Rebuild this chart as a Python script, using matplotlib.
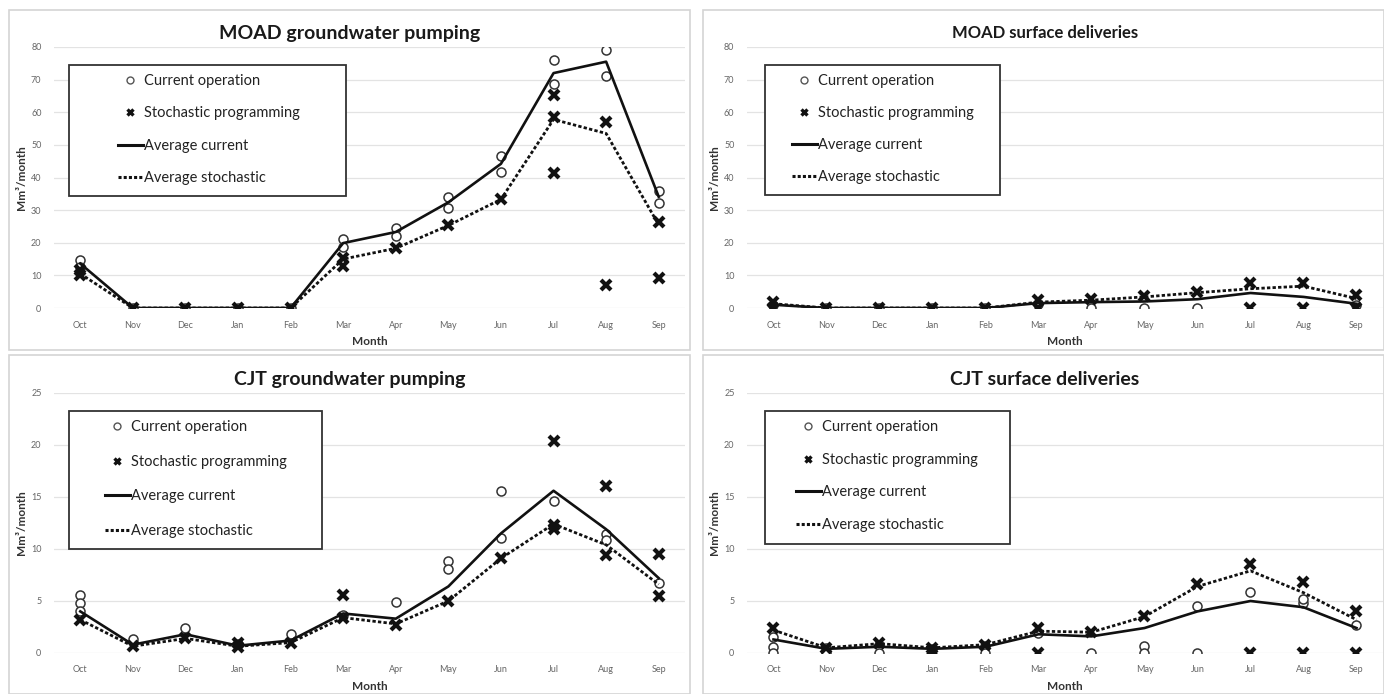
import matplotlib
matplotlib.use('Agg')
import matplotlib.pyplot as plt
from matplotlib.lines import Line2D
from matplotlib.patches import Rectangle

plt.rcParams['font.family'] = ['Lato', 'DejaVu Sans']

months = ['Oct', 'Nov', 'Dec', 'Jan', 'Feb', 'Mar', 'Apr', 'May', 'Jun', 'Jul', 'Aug', 'Sep']

# MOAD groundwater pumping
moad_gw_cur_pts = [[14.8, 12.5], [0], [0], [0], [0], [21.1, 18.7], [24.5, 22.1],
                   [34.1, 30.6], [46.6, 41.8], [76.1, 68.8], [79.0, 71.0], [35.9, 32.3]]
moad_gw_cur_avg = [13.6, 0, 0, 0, 0, 19.9, 23.3, 32.4, 44.2, 72.0, 75.5, 34.1]
moad_gw_sto_pts = [[10.2, 11.5], [0], [0], [0], [0], [15.3, 12.9], [18.3],
                   [25.3], [33.3], [65.2, 58.6, 41.3], [57.1, 7.1], [26.5, 9.2]]
moad_gw_sto_avg = [10.5, 0, 0, 0, 0, 15.0, 18.3, 25.3, 33.3, 57.8, 53.5, 25.5]

# MOAD surface deliveries
moad_sw_cur_pts = [[1.0], [0], [0], [0], [0], [1.2], [0], [0], [0], [], [], [1.0]]
moad_sw_cur_avg = [1.0, 0, 0, 0, 0, 1.5, 1.8, 2.0, 2.7, 4.6, 3.4, 1.3]
moad_sw_sto_pts = [[1.8, 0], [0], [0], [0], [0], [2.5, 0], [2.8], [3.6],
                   [5.0], [7.7, 0], [7.8, 0], [3.9, 0]]
moad_sw_sto_avg = [1.3, 0, 0, 0, 0, 1.8, 2.4, 3.4, 4.7, 5.9, 6.7, 2.9]

# CJT groundwater pumping
cjt_gw_cur_pts = [[5.6, 4.8, 4.0], [1.3], [2.4], [0.9], [1.8], [3.7], [4.9],
                  [8.8, 8.1], [15.6, 11.1], [14.6], [11.4, 10.9], [6.7]]
cjt_gw_cur_avg = [4.0, 0.8, 1.8, 0.7, 1.2, 3.8, 3.3, 6.4, 11.5, 15.6, 11.9, 7.2]
cjt_gw_sto_pts = [[3.2], [0.7], [1.4], [1.0, 0.6], [1.0], [5.6, 3.4], [2.7],
                  [5.0], [9.1], [20.4, 12.3, 11.9], [16.1, 9.4], [9.5, 5.5]]
cjt_gw_sto_avg = [3.2, 0.65, 1.4, 0.65, 1.0, 3.4, 2.8, 5.0, 9.1, 12.4, 10.4, 6.6]

# CJT surface deliveries
cjt_sw_cur_pts = [[1.5, 0.6, 0], [0.5, 0], [0.8, 0], [0.4], [0.7, 0], [1.9], [0],
                  [0.7, 0], [4.5, 0], [5.9], [4.8, 5.2], [2.7]]
cjt_sw_cur_avg = [1.3, 0.4, 0.6, 0.4, 0.6, 1.8, 1.6, 2.4, 4.0, 5.0, 4.4, 2.4]
cjt_sw_sto_pts = [[2.4], [0.5], [1.0], [0.5, 0.2], [0.8], [2.4, 0], [2.0], [3.6],
                  [6.6], [8.6, 0], [6.8, 0], [4.0, 0]]
cjt_sw_sto_avg = [2.2, 0.5, 0.9, 0.5, 0.8, 2.1, 2.0, 3.5, 6.4, 7.9, 5.8, 3.2]

W, H = 1384, 694
fig = plt.figure(figsize=(W / 100, H / 100), dpi=100)


def px_rect(x0, y0, x1, y1):
    return [x0 / W, 1 - y1 / H, (x1 - x0) / W, (y1 - y0) / H]


def draw_panel(panel, axbox, title, tsize, tpos, ymax, ystep,
               cur_pts, cur_avg, sto_pts, sto_avg, legbox, handle_x, first_y, spacing):
    # chart area border
    r = px_rect(*panel)
    fig.patches.append(Rectangle((r[0], r[1]), r[2], r[3], transform=fig.transFigure,
                                 fill=False, edgecolor='#d4d4d4', lw=1.2))
    fig.text(tpos[0] / W, 1 - tpos[1] / H, title, ha='center', va='center',
             fontsize=tsize, fontweight='bold', color='#1a1a1a')

    ax = fig.add_axes(px_rect(*axbox))
    x = list(range(len(months)))
    for i, vals in enumerate(cur_pts):
        ax.plot([i] * len(vals), vals, 'o', ms=6.5, mfc='white', mec='#333333', mew=1.1,
                zorder=3)
    for i, vals in enumerate(sto_pts):
        ax.plot([i] * len(vals), vals, 'x', ms=6.5, mec='#111111', mew=3.0, zorder=4)
    ax.plot(x, cur_avg, '-', color='#111111', lw=1.9, zorder=5)
    ax.plot(x, sto_avg, color='#111111', lw=2.0, ls=(0, (1.2, 0.8)), zorder=5)

    ax.set_xlim(-0.5, len(months) - 0.5)
    ax.set_ylim(0, ymax)
    ax.set_xticks(x)
    ax.set_xticklabels(months)
    ax.set_yticks(range(0, ymax + 1, ystep))
    ax.tick_params(length=0, labelsize=6.5, colors='#666666')
    ax.tick_params(axis='x', pad=9)
    ax.tick_params(axis='y', pad=9)
    ax.grid(axis='y', color='#e3e3e3', lw=0.9)
    ax.set_axisbelow(True)
    for s in ax.spines.values():
        s.set_visible(False)
    ax.set_xlabel('Month', fontsize=8.5, fontweight='bold', color='#333333', labelpad=5)
    ax.set_ylabel('Mm³/month', fontsize=8.5, fontweight='bold', color='#333333', labelpad=3)

    # legend frame + entries
    lb = legbox
    ax_x0, ax_y0, ax_x1, ax_y1 = axbox
    aw, ah = ax_x1 - ax_x0, ax_y1 - ax_y0
    ax.add_patch(Rectangle(((lb[0] - ax_x0) / aw, (ax_y1 - lb[3]) / ah),
                           (lb[2] - lb[0]) / aw, (lb[3] - lb[1]) / ah,
                           transform=ax.transAxes, facecolor='white', edgecolor='#333333',
                           lw=1.3, zorder=6, clip_on=False))
    handles = [
        Line2D([], [], ls='none', marker='o', ms=5, mfc='white', mec='#555555', mew=1),
        Line2D([], [], ls='none', marker='x', ms=5, mec='#111111', mew=2.4),
        Line2D([], [], color='#111111', lw=2.2),
        Line2D([], [], color='#111111', lw=2.2, ls=(0, (1.0, 0.7))),
    ]
    labels = ['Current operation', 'Stochastic programming', 'Average current',
              'Average stochastic']
    fs = 10.5
    leg = ax.legend(handles, labels, loc='upper left', frameon=False, fontsize=fs,
                    bbox_to_anchor=((handle_x - ax_x0) / aw,
                                    (ax_y1 - (first_y - 8)) / ah),
                    borderpad=0, borderaxespad=0, handlelength=1.7, handletextpad=0.05,
                    labelspacing=(spacing - 14.5) / 14.5)
    leg.set_zorder(7)
    for t in leg.get_texts():
        t.set_color('#222222')
    return ax


draw_panel((9, 10, 690, 350), (54, 47, 685, 308), 'MOAD groundwater pumping', 14, (350, 33),
           80, 10, moad_gw_cur_pts, moad_gw_cur_avg, moad_gw_sto_pts, moad_gw_sto_avg,
           (69, 65, 346, 196), 118, 82, 32.7)
draw_panel((703, 10, 1384, 350), (747, 47, 1383, 308), 'MOAD surface deliveries', 12,
           (1045, 33), 80, 10, moad_sw_cur_pts, moad_sw_cur_avg, moad_sw_sto_pts,
           moad_sw_sto_avg, (765, 65, 1000, 195), 792, 82, 32.5)
draw_panel((9, 355, 690, 694), (54, 393, 685, 653), 'CJT groundwater pumping', 14, (350, 380),
           25, 5, cjt_gw_cur_pts, cjt_gw_cur_avg, cjt_gw_sto_pts, cjt_gw_sto_avg,
           (69, 411, 322, 549), 105, 428, 35)
draw_panel((703, 355, 1384, 694), (747, 393, 1383, 653), 'CJT surface deliveries', 14,
           (1045, 380), 25, 5, cjt_sw_cur_pts, cjt_sw_cur_avg, cjt_sw_sto_pts,
           cjt_sw_sto_avg, (765, 411, 1010, 544), 796, 428, 33)

fig.savefig('out.png', dpi=100)
